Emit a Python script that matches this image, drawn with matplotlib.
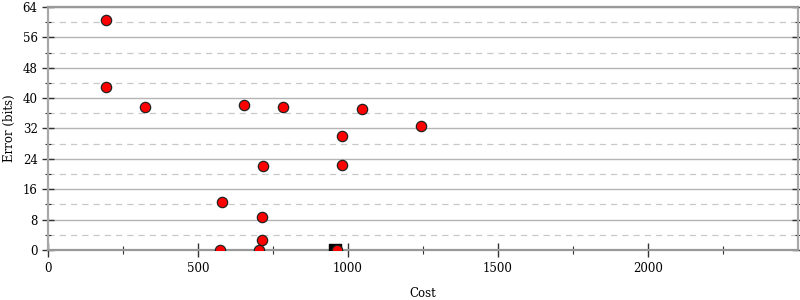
import matplotlib
matplotlib.use("Agg")
import matplotlib.pyplot as plt
from matplotlib.ticker import MultipleLocator, FixedLocator

cost = [193, 193, 324, 653, 784, 1047, 1243, 980, 717, 981, 581, 713, 713, 573, 703, 962]
error = [60.5, 42.9, 37.6, 38.3, 37.6, 37.1, 32.7, 30.0, 22.2, 22.5, 12.6, 8.8, 2.6, 0.0, 0.0, 0.0]
best_cost = [955]
best_error = [0.0]
x_ticks = [0, 500, 1000, 1500, 2000]
x_minor = [250, 750, 1250, 1750, 2250]

plt.rcParams['font.family'] = ['DejaVu Serif']
fig = plt.figure(figsize=(8, 3), dpi=100)
ax = fig.add_axes([0.06, 0.1667, 0.9375, 0.81])

ax.set_xlim(0, 2500)
ax.set_ylim(0, 64)
ax.xaxis.set_major_locator(FixedLocator(x_ticks))
ax.xaxis.set_minor_locator(FixedLocator(x_minor))
ax.yaxis.set_major_locator(MultipleLocator(8))
ax.yaxis.set_minor_locator(MultipleLocator(4))

ax.grid(which='major', axis='y', color='#b4b4b4', linewidth=1.0, linestyle='-')
ax.grid(which='minor', axis='y', color='#c8c8c8', linewidth=0.9, linestyle=(0, (5, 4)))
ax.set_axisbelow(True)

for s in ax.spines.values():
    s.set_color('#a8a8a8')
    s.set_linewidth(1.6)
ax.spines['top'].set_color('#999999')
ax.spines['bottom'].set_color('#999999')

ax.tick_params(axis='y', which='both', left=True, right=True, direction='inout', color='#333333', labelsize=8.5)
ax.tick_params(axis='y', which='major', length=8, width=1)
ax.tick_params(axis='y', which='minor', length=5, width=0.8)
ax.tick_params(axis='x', which='both', bottom=True, top=False, direction='inout', color='#333333', labelsize=8.5)
ax.tick_params(axis='x', which='major', length=10, width=1)
ax.tick_params(axis='x', which='minor', length=6, width=0.8)

ax.scatter(best_cost, best_error, marker='s', s=80, color='black', zorder=3, clip_on=True)
ax.scatter(cost, error, marker='o', s=55, facecolor='#ff0000', edgecolor='#222222', linewidth=0.9, zorder=4, clip_on=True)

ax.set_xlabel('Cost', fontsize=8.5, labelpad=9)
ax.set_ylabel('Error (bits)', fontsize=8.5, labelpad=5)

fig.savefig('out.png', dpi=100)
